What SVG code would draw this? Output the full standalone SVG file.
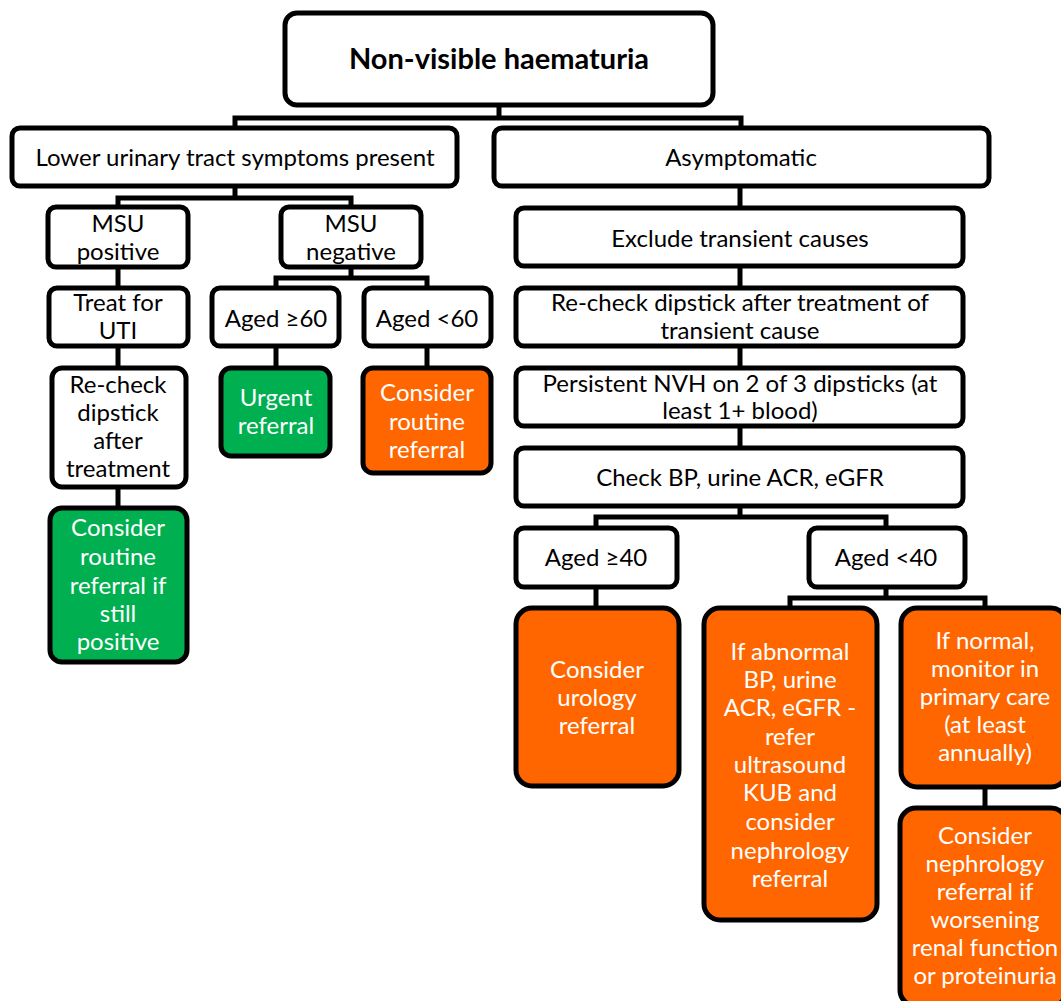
<svg xmlns="http://www.w3.org/2000/svg" width="1061" height="1001" viewBox="0 0 1061 1001">
<style>
.b{fill:#fff;stroke:#000;stroke-width:5}
.g{fill:#00B050;stroke:#000;stroke-width:5}
.o{fill:#FF6600;stroke:#000;stroke-width:5}
text{font-family:Lato,"Liberation Sans",sans-serif;font-size:24px;text-anchor:middle;fill:#000}
.w{fill:#fff}
.c{fill:none;stroke:#000;stroke-width:5}
</style>
<rect width="1061" height="1001" fill="#fff"/>
<g id="connectors">
<path class="c" d="M499 105V118M235 128V118H741V128"/>
<path class="c" d="M235 186V198M118 207V198H351V207"/>
<path class="c" d="M118 267V288M118 346V368M118 487V508"/>
<path class="c" d="M351 267V278M276 288V278H427V288"/>
<path class="c" d="M276 346V368M427 346V368"/>
<path class="c" d="M740 186V208M740 266V288M740 346V368M740 426V448"/>
<path class="c" d="M740 506V517M596 528V517H886V528"/>
<path class="c" d="M596 587V608"/>
<path class="c" d="M886 587V598M790 608V598H985V608"/>
<path class="c" d="M985 787V808"/>
</g>
<g id="n-root"><rect class="b" x="285" y="13" width="428" height="92" rx="12"/><text x="499" y="69" style="font-weight:bold;font-size:29px">Non-visible haematuria</text></g>
<g id="n-luts"><rect class="b" x="12" y="128" width="445" height="58" rx="8"/><text x="235" y="166">Lower urinary tract symptoms present</text></g>
<g id="n-asym"><rect class="b" x="494" y="128" width="495" height="58" rx="8"/><text x="741" y="166">Asymptomatic</text></g>
<g id="n-msupos"><rect class="b" x="48" y="207" width="140" height="60" rx="8"/><text x="118" y="232">MSU<tspan x="118" y="260">positive</tspan></text></g>
<g id="n-msuneg"><rect class="b" x="281" y="207" width="140" height="60" rx="8"/><text x="351" y="232">MSU<tspan x="351" y="260">negative</tspan></text></g>
<g id="n-treat"><rect class="b" x="49" y="288" width="139" height="58" rx="8"/><text x="118" y="311">Treat for<tspan x="118" y="339">UTI</tspan></text></g>
<g id="n-age60p"><rect class="b" x="212" y="288" width="127" height="58" rx="8"/><text x="276" y="327">Aged ≥60</text></g>
<g id="n-age60m"><rect class="b" x="364" y="288" width="127" height="58" rx="8"/><text x="427" y="327">Aged &lt;60</text></g>
<g id="n-recheck"><rect class="b" x="52" y="368" width="134" height="119" rx="10"/><text x="118" y="393">Re-check<tspan x="118" y="421">dipstick</tspan><tspan x="118" y="449">after</tspan><tspan x="118" y="477">treatment</tspan></text></g>
<g id="n-urgent"><rect class="g" x="221" y="368" width="109" height="88" rx="10"/><text class="w" x="276" y="406">Urgent<tspan x="276" y="434">referral</tspan></text></g>
<g id="n-routine"><rect class="o" x="363" y="368" width="128" height="105" rx="10"/><text class="w" x="427" y="401">Consider<tspan x="427" y="430">routine</tspan><tspan x="427" y="458">referral</tspan></text></g>
<g id="n-routine2"><rect class="g" x="50" y="508" width="137" height="154" rx="12"/><text class="w" x="118" y="536">Consider<tspan x="118" y="565">routine</tspan><tspan x="118" y="594">referral if</tspan><tspan x="118" y="622">still</tspan><tspan x="118" y="650">positive</tspan></text></g>
<g id="n-exclude"><rect class="b" x="516" y="208" width="447" height="58" rx="8"/><text x="740" y="247">Exclude transient causes</text></g>
<g id="n-recheck2"><rect class="b" x="516" y="288" width="447" height="58" rx="8"/><text x="740" y="311">Re-check dipstick after treatment of<tspan x="740" y="339">transient cause</tspan></text></g>
<g id="n-persist"><rect class="b" x="516" y="368" width="447" height="58" rx="8"/><text x="740" y="392">Persistent NVH on 2 of 3 dipsticks (at<tspan x="740" y="419">least 1+ blood)</tspan></text></g>
<g id="n-checkbp"><rect class="b" x="516" y="448" width="447" height="58" rx="8"/><text x="740" y="486">Check BP, urine ACR, eGFR</text></g>
<g id="n-age40p"><rect class="b" x="516" y="528" width="161" height="59" rx="8"/><text x="596" y="566">Aged ≥40</text></g>
<g id="n-age40m"><rect class="b" x="809" y="528" width="156" height="59" rx="8"/><text x="886" y="566">Aged &lt;40</text></g>
<g id="n-urology"><rect class="o" x="516" y="608" width="163" height="178" rx="16"/><text class="w" x="597" y="678">Consider<tspan x="597" y="706">urology</tspan><tspan x="597" y="734">referral</tspan></text></g>
<g id="n-abnormal"><rect class="o" x="704" y="608" width="173" height="312" rx="16"/><text class="w" x="790" y="660">If abnormal<tspan x="790" y="688">BP, urine</tspan><tspan x="790" y="716">ACR, eGFR -</tspan><tspan x="790" y="745">refer</tspan><tspan x="790" y="773">ultrasound</tspan><tspan x="790" y="801">KUB and</tspan><tspan x="790" y="830">consider</tspan><tspan x="790" y="859">nephrology</tspan><tspan x="790" y="887">referral</tspan></text></g>
<g id="n-normal"><rect class="o" x="901" y="608" width="166" height="179" rx="16"/><text class="w" x="985" y="649">If normal,<tspan x="985" y="677">monitor in</tspan><tspan x="985" y="705">primary care</tspan><tspan x="985" y="733">(at least</tspan><tspan x="985" y="761">annually)</tspan></text></g>
<g id="n-nephro"><rect class="o" x="900" y="808" width="167" height="198" rx="16"/><text class="w" x="985" y="844">Consider<tspan x="985" y="872">nephrology</tspan><tspan x="985" y="900">referral if</tspan><tspan x="985" y="928">worsening</tspan><tspan x="985" y="956">renal function</tspan><tspan x="985" y="984">or proteinuria</tspan></text></g>
</svg>
